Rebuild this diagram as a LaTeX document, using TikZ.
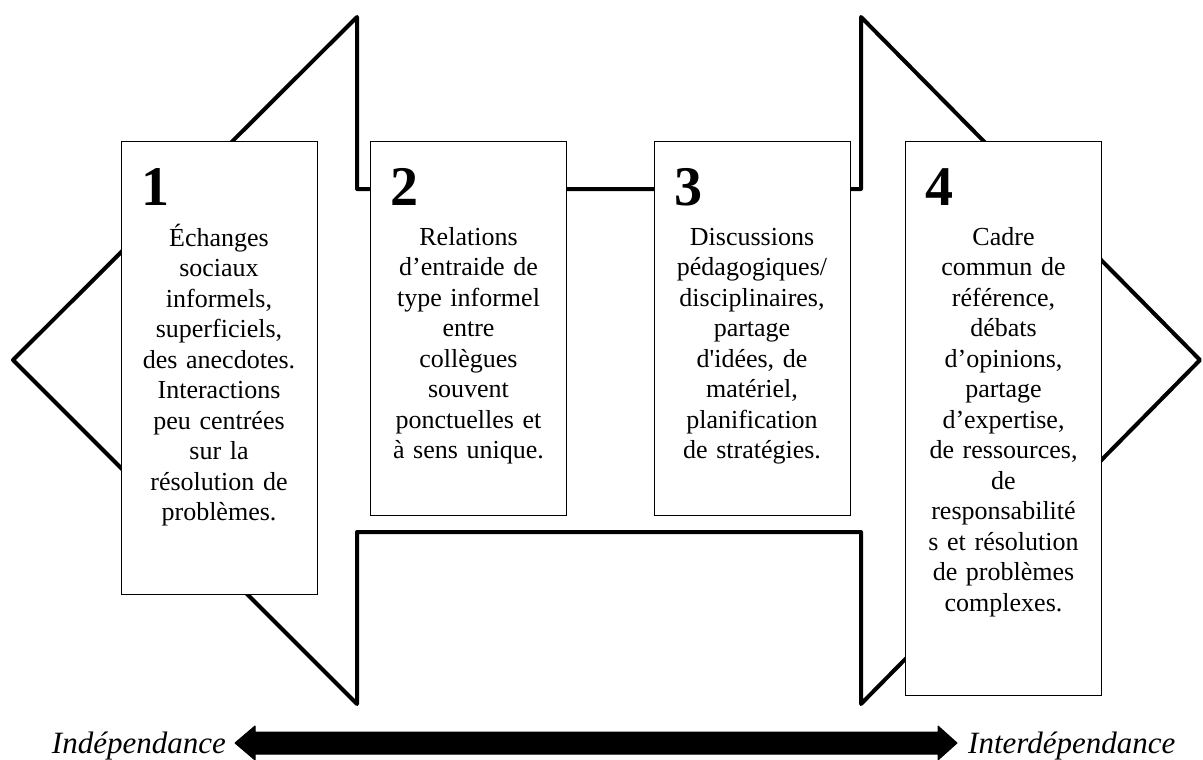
\documentclass[tikz,border=0pt]{standalone}
\usepackage{fontspec}
\setmainfont{Liberation Serif}
\begin{document}
\begin{tikzpicture}[x=1pt,y=-1pt]
\tikzset{
  outline/.style={line width=4pt, line join=round, line cap=round},
  card/.style={draw=black, line width=1.1pt, fill=white, inner sep=0pt, anchor=north west, minimum width=196pt},
  num/.style={font=\fontsize{56}{60}\selectfont\bfseries, anchor=base west, inner sep=0pt},
  body/.style={font=\fontsize{26}{30.5}\selectfont, align=center, anchor=north, inner sep=0pt, text width=194pt},
  pole/.style={font=\fontsize{31}{36}\selectfont\itshape, inner sep=0pt},
  bigarrow/.style={fill=black, draw=black, line width=1pt, line join=round}
}
\useasboundingbox (0,0) rectangle (1203,760);

% big double-headed outline arrow
\draw[outline] (13,360) -- (357,17) -- (357,189) -- (861,189) -- (861,17)
  -- (1200,360) -- (861,704) -- (861,532) -- (357,532) -- (357,704) -- cycle;

% boxes
\node[card, minimum height=453pt] (b1) at (121,141) {};
\node[card, minimum height=374pt] (b2) at (370,141) {};
\node[card, minimum height=374pt] (b3) at (654,141) {};
\node[card, minimum height=554pt] (b4) at (905,141) {};

% numbers
\node[num] (n1) at (141,205) {1};
\node[num] (n2) at (390,205) {2};
\node[num] (n3) at (674,205) {3};
\node[num] (n4) at (925,205) {4};

% texts
\node[body] (t1) at (219,223.6) {\strut Échanges\\sociaux\\informels,\\superficiels,\\des anecdotes.\\Interactions\\peu centrées\\sur la\\résolution de\\problèmes.};
\node[body] (t2) at (468.5,223.6) {\strut Relations\\d’entraide de\\type informel\\entre\\collègues\\souvent\\ponctuelles et\\à sens unique.};
\node[body] (t3) at (752,223.6) {\strut Discussions\\pédagogiques/\\disciplinaires,\\partage\\d\textquotesingle idées, de\\matériel,\\planification\\de stratégies.};
\node[body] (t4) at (1003.5,223.6) {\strut Cadre\\commun de\\référence,\\débats\\d’opinions,\\partage\\d’expertise,\\de ressources,\\de\\responsabilité\\s et résolution\\de problèmes\\complexes.};

% bottom double arrow
\coordinate (la) at (235,743);
\coordinate (ra) at (957,743);
\fill[bigarrow] (la) -- (255,726) -- (255,732) -- (938,732) -- (938,726) -- (ra)
  -- (938,760) -- (938,754) -- (255,754) -- (255,760) -- cycle;

\node[pole, anchor=base east] (ind) at (226,753) {Indépendance};
\node[pole, anchor=base west] (int) at (968,753) {Interdépendance};
\end{tikzpicture}
\end{document}
